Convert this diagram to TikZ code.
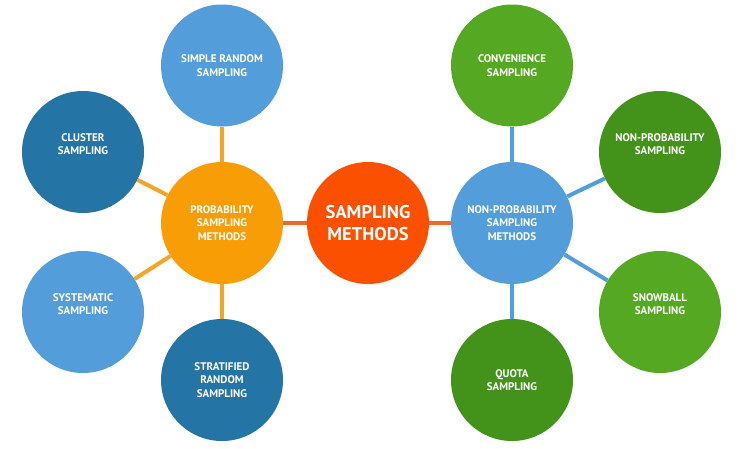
\documentclass[tikz,border=0pt]{standalone}
\usepackage{fontspec}
\setmainfont{PT Sans}
\definecolor{lblue}{HTML}{529DDA}
\definecolor{dblue}{HTML}{2474A6}
\definecolor{porange}{HTML}{F99D07}
\definecolor{cred}{HTML}{FA5000}
\definecolor{lgreen}{HTML}{55A922}
\definecolor{dgreen}{HTML}{43931A}
\definecolor{oline}{HTML}{F5A42A}
\definecolor{rline}{HTML}{F26A2A}
\begin{document}
\begin{tikzpicture}[x=1pt,y=-1pt,
  bubble/.style={circle,minimum size=122pt,inner sep=0pt,align=center,text=white,
    font=\bfseries\fontsize{11}{13.5}\selectfont},
  conn/.style={line width=4pt}]
\useasboundingbox[fill=white] (0,0) rectangle (739,448);
\node[bubble,fill=cred,font=\bfseries\fontsize{18.5}{22}\selectfont] (center) at (368,223) {SAMPLING\\METHODS};
\node[bubble,fill=porange] (prob) at (222,223) {PROBABILITY\\SAMPLING\\METHODS};
\node[bubble,fill=lblue] (nonprob) at (512,223) {NON-PROBABILITY\\SAMPLING\\METHODS};
\node[bubble,fill=lblue] (simple) at (222,65.5) {SIMPLE RANDOM\\SAMPLING};
\node[bubble,fill=dblue] (cluster) at (83,152) {CLUSTER\\SAMPLING\\[2pt]};
\node[bubble,fill=lblue] (system) at (83,312) {SYSTEMATIC\\SAMPLING\\[2pt]};
\node[bubble,fill=dblue] (strat) at (222,380) {STRATIFIED\\RANDOM\\SAMPLING};
\node[bubble,fill=lgreen] (conv) at (512,65.5) {CONVENIENCE\\SAMPLING};
\node[bubble,fill=dgreen] (npsamp) at (660,152) {NON-PROBABILITY\\SAMPLING\\[2pt]};
\node[bubble,fill=lgreen] (snow) at (660,312) {SNOWBALL\\SAMPLING\\[2pt]};
\node[bubble,fill=dgreen] (quota) at (512,380) {QUOTA\\SAMPLING};
\draw[conn,rline] (prob) -- (center);
\draw[conn,rline] (center) -- (nonprob);
\draw[conn,oline] (prob) -- (simple);
\draw[conn,oline] (prob) -- (cluster);
\draw[conn,oline] (prob) -- (system);
\draw[conn,oline] (prob) -- (strat);
\draw[conn,lblue] (nonprob) -- (conv);
\draw[conn,lblue] (nonprob) -- (npsamp);
\draw[conn,lblue] (nonprob) -- (snow);
\draw[conn,lblue] (nonprob) -- (quota);
\end{tikzpicture}
\end{document}
